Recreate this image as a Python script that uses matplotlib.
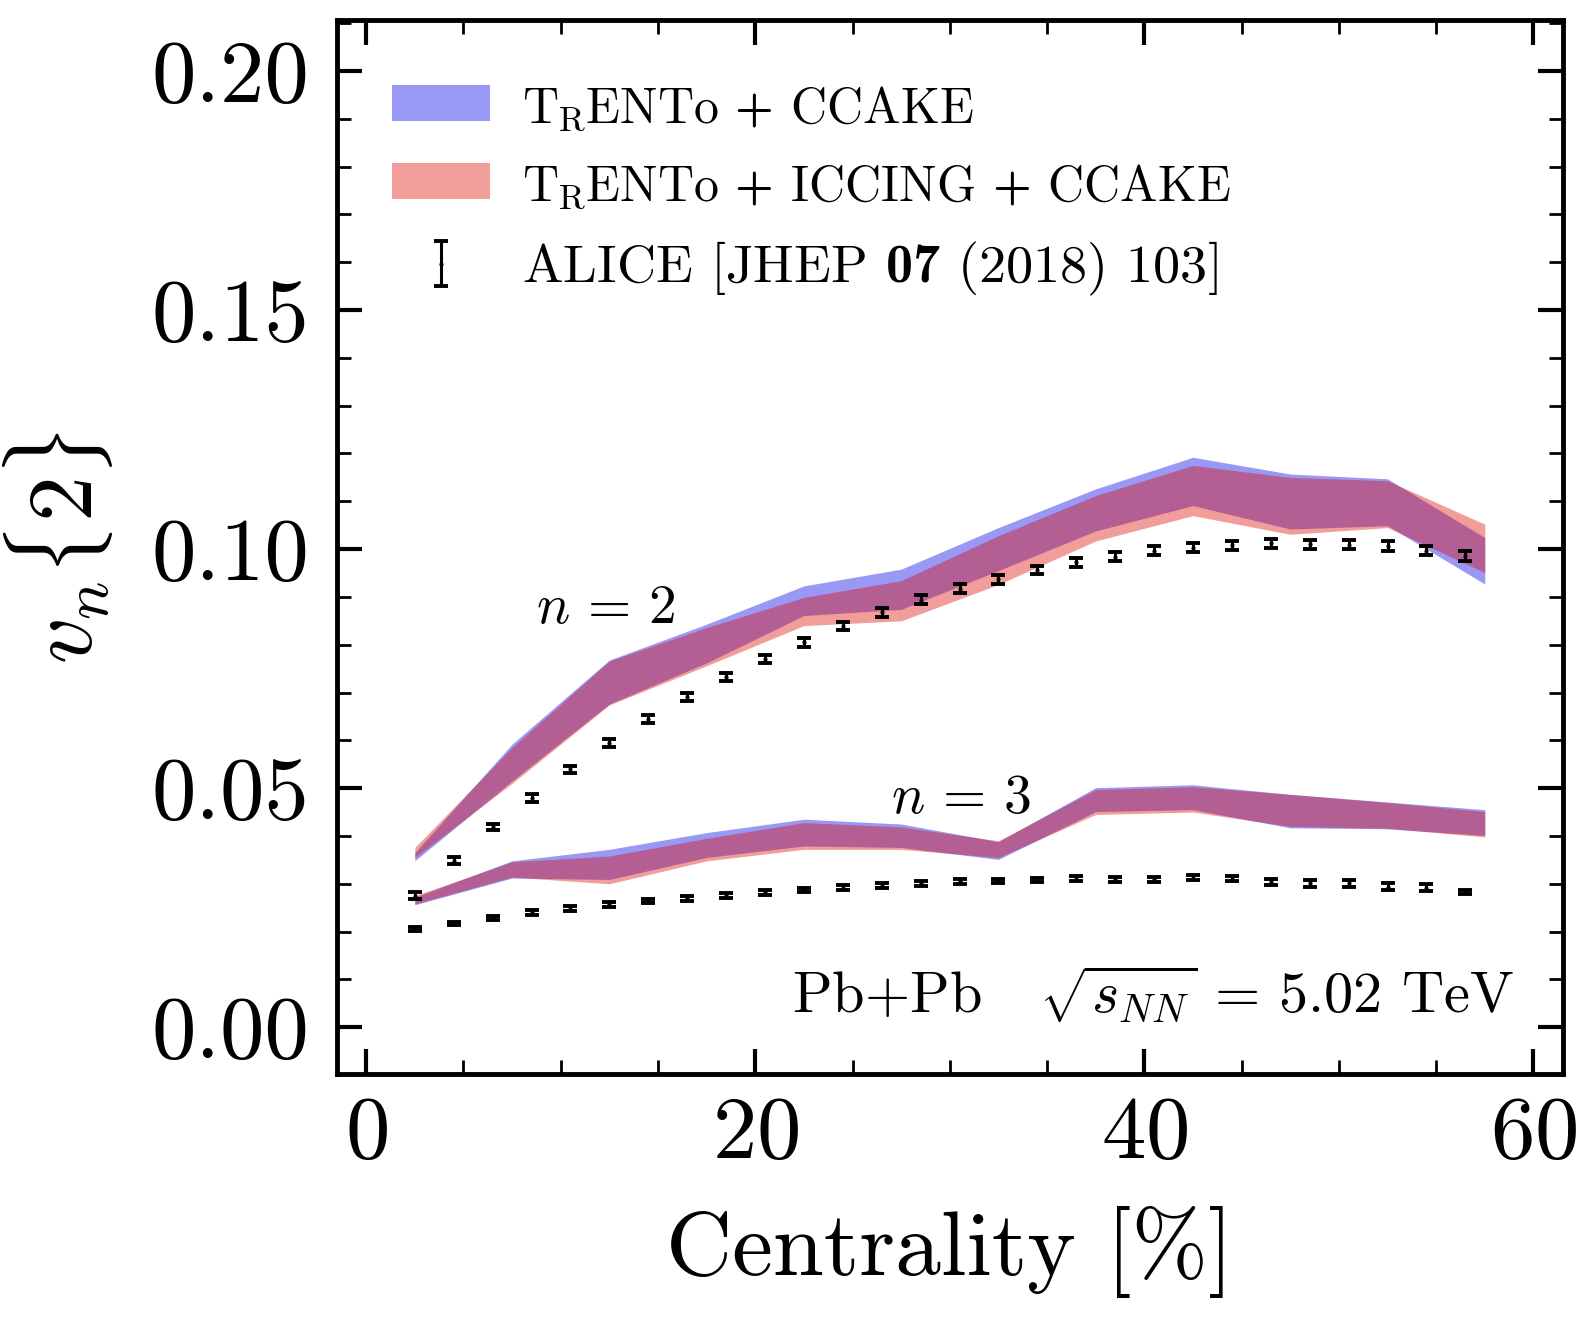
import numpy as np
import matplotlib
matplotlib.use("Agg")
import matplotlib.pyplot as plt
from matplotlib.ticker import MultipleLocator, FormatStrFormatter
from matplotlib.legend_handler import HandlerErrorbar

plt.rcParams["font.family"] = "serif"
plt.rcParams["font.serif"] = ["cmr10"]
plt.rcParams["mathtext.fontset"] = "cm"
plt.rcParams["mathtext.rm"] = "cmr10"
plt.rcParams["mathtext.bf"] = "cmb10"
plt.rcParams["axes.unicode_minus"] = False
plt.rcParams["axes.formatter.use_mathtext"] = True

# --- model bands (5% centrality bins) ---
cent_model = [2.5, 7.5, 12.5, 17.5, 22.5, 27.5, 32.5, 37.5, 42.5, 47.5, 52.5, 57.5]

v2_ccake_hi = [0.0365, 0.0592, 0.0768, 0.0843, 0.0923, 0.0958, 0.1045, 0.1126, 0.1192, 0.1157, 0.1147, 0.1024]
v2_ccake_lo = [0.0348, 0.0515, 0.0676, 0.0762, 0.0861, 0.0874, 0.0955, 0.1038, 0.1091, 0.1042, 0.1049, 0.0927]
v2_iccing_hi = [0.0376, 0.0585, 0.0766, 0.0836, 0.0899, 0.0934, 0.1028, 0.1112, 0.1175, 0.1150, 0.1143, 0.1052]
v2_iccing_lo = [0.0355, 0.0510, 0.0674, 0.0756, 0.0840, 0.0850, 0.0926, 0.1017, 0.1070, 0.1031, 0.1045, 0.0951]

v3_ccake_hi = [0.0272, 0.0348, 0.0372, 0.0407, 0.0435, 0.0425, 0.0388, 0.0501, 0.0507, 0.0487, 0.0471, 0.0455]
v3_ccake_lo = [0.0256, 0.0312, 0.0309, 0.0355, 0.0379, 0.0376, 0.0351, 0.0451, 0.0455, 0.0417, 0.0415, 0.0401]
v3_iccing_hi = [0.0275, 0.0346, 0.0358, 0.0395, 0.0428, 0.0419, 0.0390, 0.0497, 0.0503, 0.0487, 0.0470, 0.0451]
v3_iccing_lo = [0.0258, 0.0314, 0.0300, 0.0348, 0.0372, 0.0372, 0.0355, 0.0445, 0.0450, 0.0420, 0.0416, 0.0398]

# --- ALICE data ---
cent_alice = [2.5, 4.5, 6.5, 8.5, 10.5, 12.5, 14.5, 16.5, 18.5, 20.5, 22.5, 24.5, 26.5, 28.5,
              30.5, 32.5, 34.5, 36.5, 38.5, 40.5, 42.5, 44.5, 46.5, 48.5, 50.5, 52.5, 54.5, 56.5]
v2_alice = [0.0275, 0.0348, 0.0419, 0.0480, 0.0539, 0.0594, 0.0645, 0.0690, 0.0732, 0.0770,
            0.0805, 0.0839, 0.0868, 0.0894, 0.0917, 0.0937, 0.0956, 0.0972, 0.0984, 0.0997,
            0.1003, 0.1008, 0.1012, 0.1010, 0.1009, 0.1007, 0.0997, 0.0986]
v2_alice_err = [0.0007, 0.0007, 0.0007, 0.0008, 0.0008, 0.0008, 0.0008, 0.0008, 0.0008, 0.0008,
                0.0009, 0.0009, 0.0009, 0.0009, 0.0009, 0.0009, 0.0009, 0.0009, 0.0009, 0.0009,
                0.0009, 0.0009, 0.0009, 0.0009, 0.0009, 0.0010, 0.0010, 0.0011]
v3_alice = [0.0205, 0.0217, 0.0229, 0.0240, 0.0248, 0.0257, 0.0264, 0.0270, 0.0276, 0.0282,
            0.0287, 0.0292, 0.0296, 0.0301, 0.0305, 0.0306, 0.0308, 0.0311, 0.0309, 0.0309,
            0.0313, 0.0311, 0.0304, 0.0301, 0.0301, 0.0294, 0.0292, 0.0283]
v3_alice_err = [0.0004, 0.0004, 0.0004, 0.0005, 0.0005, 0.0005, 0.0005, 0.0005, 0.0005, 0.0005,
                0.0005, 0.0005, 0.0005, 0.0005, 0.0005, 0.0005, 0.0005, 0.0006, 0.0006, 0.0006,
                0.0006, 0.0005, 0.0006, 0.0007, 0.0007, 0.0007, 0.0007, 0.0004]

col_blue = "#0000e6"
col_red = "#dc0a03"

fig = plt.figure(figsize=(15.88, 13.26), dpi=100)
ax = fig.add_axes([0.2122, 0.190, 0.7718, 0.7947])

ax.fill_between(cent_model, v2_ccake_lo, v2_ccake_hi, color=col_blue, alpha=0.4, lw=0,
                label=r"T$_\mathrm{R}$ENTo $\mathbf{+}$ CCAKE")
ax.fill_between(cent_model, v3_ccake_lo, v3_ccake_hi, color=col_blue, alpha=0.4, lw=0)
ax.fill_between(cent_model, v2_iccing_lo, v2_iccing_hi, color=col_red, alpha=0.4, lw=0,
                label=r"T$_\mathrm{R}$ENTo $\mathbf{+}$ ICCING $\mathbf{+}$ CCAKE")
ax.fill_between(cent_model, v3_iccing_lo, v3_iccing_hi, color=col_red, alpha=0.4, lw=0)

eb = ax.errorbar(cent_alice, v2_alice, yerr=v2_alice_err, fmt="o", ms=2, color="k",
                 elinewidth=2.2, capsize=5, capthick=2.8,
                 label=r"ALICE [JHEP $\mathbf{07}$ (2018) 103]")
ax.errorbar(cent_alice, v3_alice, yerr=v3_alice_err, fmt="o", ms=2, color="k",
            elinewidth=2.2, capsize=5, capthick=2.8)

ax.text(8.75, 0.0845, r"$n \,=\, 2$", fontsize=40)
ax.text(27.0, 0.0447, r"$n \,=\, 3$", fontsize=40)
ax.text(0.96, 0.058, r"Pb+Pb   $\sqrt{s_{NN}} \,=\, 5.02$ TeV", transform=ax.transAxes,
        ha="right", va="baseline", fontsize=42)

ax.set_xlim(-1.5, 61.5)
ax.set_ylim(-0.0098, 0.2106)
ax.xaxis.set_major_locator(MultipleLocator(20))
ax.xaxis.set_minor_locator(MultipleLocator(5))
ax.yaxis.set_major_locator(MultipleLocator(0.05))
ax.yaxis.set_minor_locator(MultipleLocator(0.01))
ax.yaxis.set_major_formatter(FormatStrFormatter("%.2f"))

for s in ax.spines.values():
    s.set_linewidth(3.5)
ax.tick_params(which="both", direction="in", top=True, right=True, labelsize=64)
ax.tick_params(which="major", length=18, width=3)
ax.tick_params(which="minor", length=10, width=2)
ax.tick_params(axis="x", which="major", pad=16)
ax.tick_params(axis="y", which="major", pad=20)

ax.set_xlabel("Centrality [%]", fontsize=66)
ax.set_ylabel(r"$v_n\{2\}$", fontsize=66)
ax.xaxis.set_label_coords(0.5, -0.125)
ax.yaxis.set_label_coords(-0.18, 0.5)

leg = ax.legend(loc="upper left", bbox_to_anchor=(0.045, 0.939), frameon=False, fontsize=39,
                borderpad=0, borderaxespad=0, handlelength=1.8, handleheight=0.65,
                handletextpad=0.6, labelspacing=0.55,
                handler_map={type(eb): HandlerErrorbar(yerr_size=0.42)})
# bold pieces (+ and 07) come from cmb10 through the custom math font set
for i, t in enumerate(leg.get_texts()):
    t.set_math_fontfamily("custom")
    if i < 2:
        t.set_fontsize(36)

fig.savefig("out.png", dpi=100)
